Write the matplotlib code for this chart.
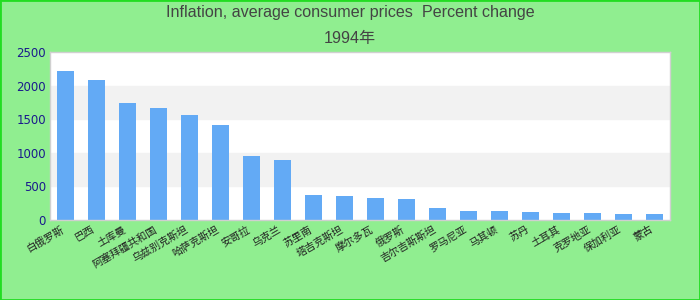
import matplotlib
matplotlib.use('Agg')
import matplotlib.pyplot as plt
from matplotlib.patches import Rectangle

plt.rcParams['font.family'] = ['DejaVu Sans', 'Noto Sans CJK SC']

countries = ['白俄罗斯', '巴西', '土库曼', '阿塞拜疆共和国', '乌兹别克斯坦', '哈萨克斯坦',
             '安哥拉', '乌克兰', '苏里南', '塔吉克斯坦', '摩尔多瓦', '俄罗斯',
             '吉尔吉斯斯坦', '罗马尼亚', '马其顿', '苏丹', '土耳其', '克罗地亚',
             '保加利亚', '蒙古']
inflation = [2221, 2076, 1748, 1664, 1568, 1410, 950, 891, 368, 350, 330, 308,
             178, 137, 127, 116, 105, 98, 90, 88]
yticks = [0, 500, 1000, 1500, 2000, 2500]

fig = plt.figure(figsize=(7, 3), dpi=100, facecolor='#90ee90')
ax = fig.add_axes([50/700, 80/300, 620/700, 168/300])
ax.set_facecolor('white')

# alternating grey bands
for lo in (500, 1500):
    ax.axhspan(lo, lo + 500, color='#f2f2f2', zorder=0)

x = range(len(countries))
ax.bar(x, inflation, width=0.55, color='#63aaf5', zorder=2)

ax.set_xlim(-0.5, len(countries) - 0.5)
ax.set_ylim(0, 2500)
ax.set_yticks(yticks)
ax.set_yticklabels([str(v) for v in yticks], color='#1a1a8c', fontsize=8.5)
ax.set_xticks(list(x))
ax.set_xticklabels(countries, rotation=30, ha='right', fontsize=7.5,
                   color='#222222', family=['Noto Sans CJK SC', 'DejaVu Sans'])
ax.tick_params(length=0, pad=3)
for s in ax.spines.values():
    s.set_color('#d0d0d0')
    s.set_linewidth(1)

fig.text(0.5, 1 - 13/300, 'Inflation, average consumer prices  Percent change',
         ha='center', va='center', fontsize=11.6, color='#444444',
         family=['Liberation Sans', 'Noto Sans CJK SC'])
fig.text(0.5, 1 - 38/300, '1994年', ha='center', va='center', fontsize=11.6,
         color='#444444', family=['Liberation Sans', 'Noto Sans CJK SC'])

fig.patches.append(Rectangle((0, 0), 1, 1, transform=fig.transFigure,
                             fill=False, edgecolor='#22dd22', linewidth=2))

fig.savefig('out.png', dpi=100, facecolor=fig.get_facecolor())
